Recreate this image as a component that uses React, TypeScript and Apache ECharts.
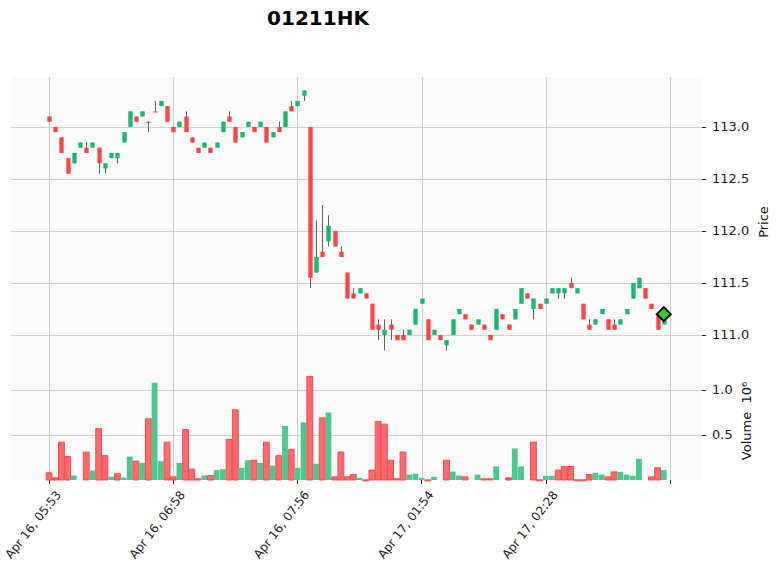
import React, { useEffect, useRef } from "react";
import * as echarts from "echarts";

const TITLE = "01211HK";
const TICK_POS = [0, 20, 40, 60, 80, 100];
const TICK_LABELS = ["Apr 16, 05:53", "Apr 16, 06:58", "Apr 16, 07:56", "Apr 17, 01:54", "Apr 17, 02:28", ""];
const PRICE_TICKS = [111.0, 111.5, 112.0, 112.5, 113.0];
const VOL_TICKS = [0.5, 1.0];

const OPEN = [
  113.10, 113.00, 112.90, 112.70, 112.65, 112.80, 112.80, 112.80, 112.80, 112.60,
  112.70, 112.70, 112.85, 113.00, 113.10, 113.10, 113.05, 113.15, 113.20, 113.20,
  113.00, 113.00, 113.10, 112.90, 112.80, 112.80, 112.80, 112.80, 112.95, 113.10,
  113.00, 112.90, 113.00, 113.00, 113.00, 113.00, 112.90, 113.00, 113.00, 113.20,
  113.20, 113.30, 113.00, 111.60, 111.80, 111.90, 112.00, 111.80, 111.60, 111.40,
  111.40, 111.40, 111.30, 111.10, 111.00, 111.10, 111.00, 111.00, 111.00, 111.10,
  111.30, 111.15, 111.00, 111.00, 110.90, 111.00, 111.20, 111.20, 111.10, 111.10,
  111.10, 111.00, 111.05, 111.20, 111.10, 111.15, 111.30, 111.40, 111.25, 111.30,
  111.30, 111.40, 111.40, 111.40, 111.50, 111.40, 111.30, 111.10, 111.10, 111.20,
  111.15, 111.10, 111.10, 111.20, 111.35, 111.45, 111.45, 111.30, 111.20, 111.10,
];
const CLOSE = [
  113.05, 112.95, 112.75, 112.55, 112.75, 112.85, 112.75, 112.85, 112.65, 112.65,
  112.75, 112.75, 112.95, 113.15, 113.05, 113.15, 113.05, 113.15, 113.25, 113.05,
  112.95, 113.05, 112.95, 112.85, 112.75, 112.85, 112.75, 112.85, 113.05, 113.05,
  112.85, 112.95, 113.05, 112.95, 113.05, 112.85, 112.95, 112.95, 113.15, 113.15,
  113.25, 113.35, 111.55, 111.75, 111.75, 112.05, 111.85, 111.75, 111.35, 111.35,
  111.45, 111.35, 111.05, 111.05, 111.05, 111.05, 110.95, 110.95, 111.05, 111.25,
  111.35, 110.95, 111.05, 110.95, 110.95, 111.15, 111.25, 111.15, 111.05, 111.15,
  111.05, 110.95, 111.25, 111.15, 111.05, 111.25, 111.45, 111.35, 111.35, 111.25,
  111.35, 111.45, 111.45, 111.45, 111.45, 111.45, 111.15, 111.05, 111.15, 111.25,
  111.05, 111.05, 111.15, 111.25, 111.50, 111.55, 111.35, 111.25, 111.05, 111.20,
];
const HIGH = [
  113.10, 113.00, 112.90, 112.70, 112.75, 112.85, 112.85, 112.85, 112.80, 112.65,
  112.75, 112.75, 112.95, 113.15, 113.10, 113.15, 113.05, 113.25, 113.25, 113.20,
  113.00, 113.05, 113.15, 112.90, 112.80, 112.85, 112.80, 112.85, 113.05, 113.15,
  113.00, 112.95, 113.05, 113.00, 113.05, 113.00, 112.95, 113.05, 113.15, 113.25,
  113.25, 113.35, 113.00, 112.10, 112.25, 112.15, 112.00, 111.85, 111.60, 111.45,
  111.45, 111.40, 111.30, 111.15, 111.15, 111.15, 111.00, 111.05, 111.05, 111.25,
  111.35, 111.15, 111.05, 111.00, 110.95, 111.15, 111.25, 111.20, 111.10, 111.15,
  111.10, 111.00, 111.25, 111.20, 111.10, 111.25, 111.45, 111.40, 111.35, 111.30,
  111.35, 111.45, 111.45, 111.45, 111.55, 111.45, 111.30, 111.15, 111.15, 111.25,
  111.15, 111.15, 111.15, 111.25, 111.50, 111.55, 111.45, 111.30, 111.20, 111.20,
];
const LOW = [
  113.05, 112.95, 112.75, 112.55, 112.65, 112.80, 112.75, 112.80, 112.55, 112.55,
  112.70, 112.65, 112.85, 113.00, 113.05, 113.10, 112.95, 113.15, 113.20, 113.05,
  112.95, 113.00, 112.95, 112.85, 112.75, 112.80, 112.75, 112.80, 112.95, 113.05,
  112.85, 112.90, 113.00, 112.95, 113.00, 112.85, 112.90, 112.95, 113.00, 113.15,
  113.20, 113.25, 111.45, 111.60, 111.75, 111.85, 111.85, 111.75, 111.35, 111.35,
  111.40, 111.35, 111.05, 110.95, 110.85, 110.95, 110.95, 110.95, 111.00, 111.10,
  111.30, 110.95, 111.00, 110.95, 110.85, 111.00, 111.20, 111.15, 111.05, 111.10,
  111.05, 110.95, 111.05, 111.15, 111.05, 111.15, 111.30, 111.35, 111.15, 111.25,
  111.30, 111.40, 111.35, 111.35, 111.45, 111.40, 111.15, 111.05, 111.10, 111.20,
  111.05, 111.05, 111.10, 111.20, 111.35, 111.45, 111.35, 111.25, 111.05, 111.10,
];
// volume in millions
const VOLUME = [
  0.08, 0.024, 0.42, 0.26, 0.05, 0.0, 0.31, 0.105, 0.57, 0.27,
  0.035, 0.07, 0.028, 0.26, 0.21, 0.19, 0.68, 1.08, 0.21, 0.42,
  0.035, 0.19, 0.56, 0.12, 0.013, 0.05, 0.05, 0.11, 0.12, 0.45,
  0.78, 0.135, 0.22, 0.22, 0.19, 0.42, 0.16, 0.27, 0.60, 0.34,
  0.135, 0.64, 1.15, 0.18, 0.69, 0.75, 0.035, 0.31, 0.035, 0.06,
  0.024, 0.002, 0.11, 0.65, 0.62, 0.22, 0.013, 0.31, 0.06, 0.07,
  0.024, 0.002, 0.035, 0.0, 0.22, 0.094, 0.05, 0.035, 0.0, 0.06,
  0.013, 0.013, 0.15, 0.0, 0.024, 0.35, 0.15, 0.0, 0.42, 0.002,
  0.046, 0.046, 0.11, 0.15, 0.15, 0.002, 0.002, 0.06, 0.08, 0.06,
  0.035, 0.09, 0.09, 0.06, 0.046, 0.235, 0.0, 0.035, 0.135, 0.11,
];

const X_MIN = -6.12;
const X_MAX = 105.15;
const P_MIN = 110.74;
const P_MAX = 113.48;
const V_MAX = 1.31;

const UP = "#19b76f";
const DOWN = "#fe4446";
const WICK = "#606060";
const VUP = "#4dc790";
const VDOWN = "#fd6b6c";
const VDOWN_EDGE = "#fe4a4c";
const GRID = "#d0d0d0";
const FONT = "DejaVu Sans";

export default function App() {
  const ref = useRef<HTMLDivElement>(null);
  useEffect(() => {
    if (!ref.current) return;
    const chart = echarts.init(ref.current, undefined, { renderer: "svg" });

    const candleData = OPEN.map((o, i) => [i, o, CLOSE[i], LOW[i], HIGH[i]]);
    const volData = VOLUME.map((v, i) => {
      const up = i === 0 ? CLOSE[0] > OPEN[0] : CLOSE[i] > CLOSE[i - 1];
      return [i, v, up ? 1 : 0];
    });

    const vGrid = (gridIdx: number, yMin: number, yMax: number) => ({
      type: "custom",
      xAxisIndex: gridIdx,
      yAxisIndex: gridIdx,
      z: 1,
      silent: true,
      data: TICK_POS.map((p) => [p, yMin, yMax]),
      encode: { x: 0, y: 1 },
      renderItem: (params: any, api: any) => {
        const a = api.coord([api.value(0), api.value(1)]);
        const b = api.coord([api.value(0), api.value(2)]);
        const x = Math.round(a[0]) + 0.5;
        return { type: "line", shape: { x1: x, y1: a[1], x2: x, y2: b[1] }, style: { stroke: GRID, lineWidth: 1 } };
      },
    });
    const hGrid = (gridIdx: number, ticks: number[]) => ({
      type: "custom",
      xAxisIndex: gridIdx,
      yAxisIndex: gridIdx,
      z: 1,
      silent: true,
      data: ticks.map((t) => [X_MIN, t, X_MAX]),
      encode: { x: 0, y: 1 },
      renderItem: (params: any, api: any) => {
        const a = api.coord([api.value(0), api.value(1)]);
        const b = api.coord([api.value(2), api.value(1)]);
        const y = Math.round(a[1]) + 0.5;
        return { type: "line", shape: { x1: a[0], y1: y, x2: b[0], y2: y }, style: { stroke: GRID, lineWidth: 1 } };
      },
    });

    const gridBase = { left: 11, width: 691, show: true, backgroundColor: "#fafafa", borderWidth: 0, containLabel: false, outerBoundsMode: "none" };

    const option: any = {
      animation: false,
      backgroundColor: "#ffffff",
      textStyle: { fontFamily: FONT },
      grid: [
        { ...gridBase, top: 77, height: 285 },
        { ...gridBase, top: 362, height: 118 },
      ],
      xAxis: [
        {
          type: "value", gridIndex: 0, min: X_MIN, max: X_MAX,
          axisLine: { show: false, onZero: false }, axisTick: { show: false }, axisLabel: { show: false }, splitLine: { show: false },
        },
        {
          type: "value", gridIndex: 1, min: X_MIN, max: X_MAX,
          axisLine: { show: false, onZero: false },
          splitLine: { show: false },
          axisTick: { show: true, customValues: TICK_POS, length: 4, lineStyle: { color: "#222", width: 1 } },
          axisLabel: {
            show: true, customValues: TICK_POS, rotate: 52, margin: 5, verticalAlign: "top",
            padding: [6, 0, 0, 0],
            fontSize: 12, color: "#222", fontFamily: FONT,
            formatter: (v: number) => {
              const k = TICK_POS.indexOf(Math.round(v));
              return k >= 0 ? TICK_LABELS[k] : "";
            },
          },
        },
      ],
      yAxis: [
        {
          type: "value", gridIndex: 0, position: "right", min: P_MIN, max: P_MAX,
          axisLine: { show: false, onZero: false }, splitLine: { show: false },
          axisTick: { show: true, customValues: PRICE_TICKS, length: 4, lineStyle: { color: "#222", width: 1 } },
          axisLabel: {
            show: true, customValues: PRICE_TICKS, margin: 10, fontSize: 13, color: "#222", fontFamily: FONT,
            formatter: (v: number) => v.toFixed(1),
          },
        },
        {
          type: "value", gridIndex: 1, position: "right", min: 0, max: V_MAX,
          axisLine: { show: false, onZero: false }, splitLine: { show: false },
          axisTick: { show: true, customValues: VOL_TICKS, length: 4, lineStyle: { color: "#222", width: 1 } },
          axisLabel: {
            show: true, customValues: VOL_TICKS, margin: 10, fontSize: 13, color: "#222", fontFamily: FONT,
            formatter: (v: number) => v.toFixed(1),
          },
        },
      ],
      graphic: [
        { type: "text", x: 318, y: 18, style: { text: TITLE, font: `bold 20px "${FONT}"`, fill: "#000", textAlign: "center", textVerticalAlign: "middle" } },
        { type: "text", x: 763, y: 222, rotation: Math.PI / 2, style: { text: "Price", font: `13px "${FONT}"`, fill: "#101010", textAlign: "center", textVerticalAlign: "middle" } },
        { type: "text", x: 746, y: 421, rotation: Math.PI / 2, style: { text: "Volume  10⁶", font: `13px "${FONT}"`, fill: "#101010", textAlign: "center", textVerticalAlign: "middle" } },
      ],
      series: [
        vGrid(0, P_MIN, P_MAX),
        hGrid(0, PRICE_TICKS),
        vGrid(1, 0, V_MAX),
        hGrid(1, VOL_TICKS),
        {
          type: "custom",
          name: "candles",
          xAxisIndex: 0, yAxisIndex: 0, z: 2,
          data: candleData,
          encode: { x: 0, y: [1, 2, 3, 4] },
          renderItem: (params: any, api: any) => {
            const i = api.value(0);
            const o = api.value(1), c = api.value(2), l = api.value(3), h = api.value(4);
            const color = c > o ? UP : DOWN;
            const ph = api.coord([i, h]);
            const pl = api.coord([i, l]);
            const po = api.coord([i, o]);
            const pc = api.coord([i, c]);
            const w = api.size([0.7, 0])[0];
            const xc = Math.round(po[0]) + 0.5;
            const top = Math.min(po[1], pc[1]);
            const hgt = Math.max(Math.abs(po[1] - pc[1]), 1.2);
            return {
              type: "group",
              children: [
                { type: "line", shape: { x1: xc, y1: ph[1], x2: xc, y2: pl[1] }, style: { stroke: WICK, lineWidth: 1 } },
                { type: "rect", shape: { x: xc - w / 2, y: top, width: w, height: hgt }, style: { fill: color } },
              ],
            };
          },
        },
        {
          type: "custom",
          name: "volume",
          xAxisIndex: 1, yAxisIndex: 1, z: 2,
          data: volData,
          encode: { x: 0, y: 1 },
          renderItem: (params: any, api: any) => {
            const i = api.value(0);
            const v = api.value(1);
            const up = api.value(2) === 1;
            if (v <= 0) return null;
            const a = api.coord([i - 0.47, v]);
            const b = api.coord([i + 0.47, 0]);
            return {
              type: "rect",
              shape: { x: a[0], y: a[1], width: b[0] - a[0], height: Math.max(b[1] - a[1], 1) },
              style: up ? { fill: VUP } : { fill: VDOWN, stroke: VDOWN_EDGE, lineWidth: 1 },
            };
          },
        },
        {
          type: "scatter",
          xAxisIndex: 0, yAxisIndex: 0, z: 5,
          symbol: "diamond",
          symbolSize: 14,
          data: [[OPEN.length - 1, CLOSE[CLOSE.length - 1]]],
          itemStyle: { color: "#33cc33", borderColor: "#000", borderWidth: 2, opacity: 1 },
        },
      ],
    };
    chart.setOption(option);
    return () => chart.dispose();
  }, []);
  return <div ref={ref} style={{ position: "fixed", left: 0, top: 0, width: 780, height: 576 }} />;
}
